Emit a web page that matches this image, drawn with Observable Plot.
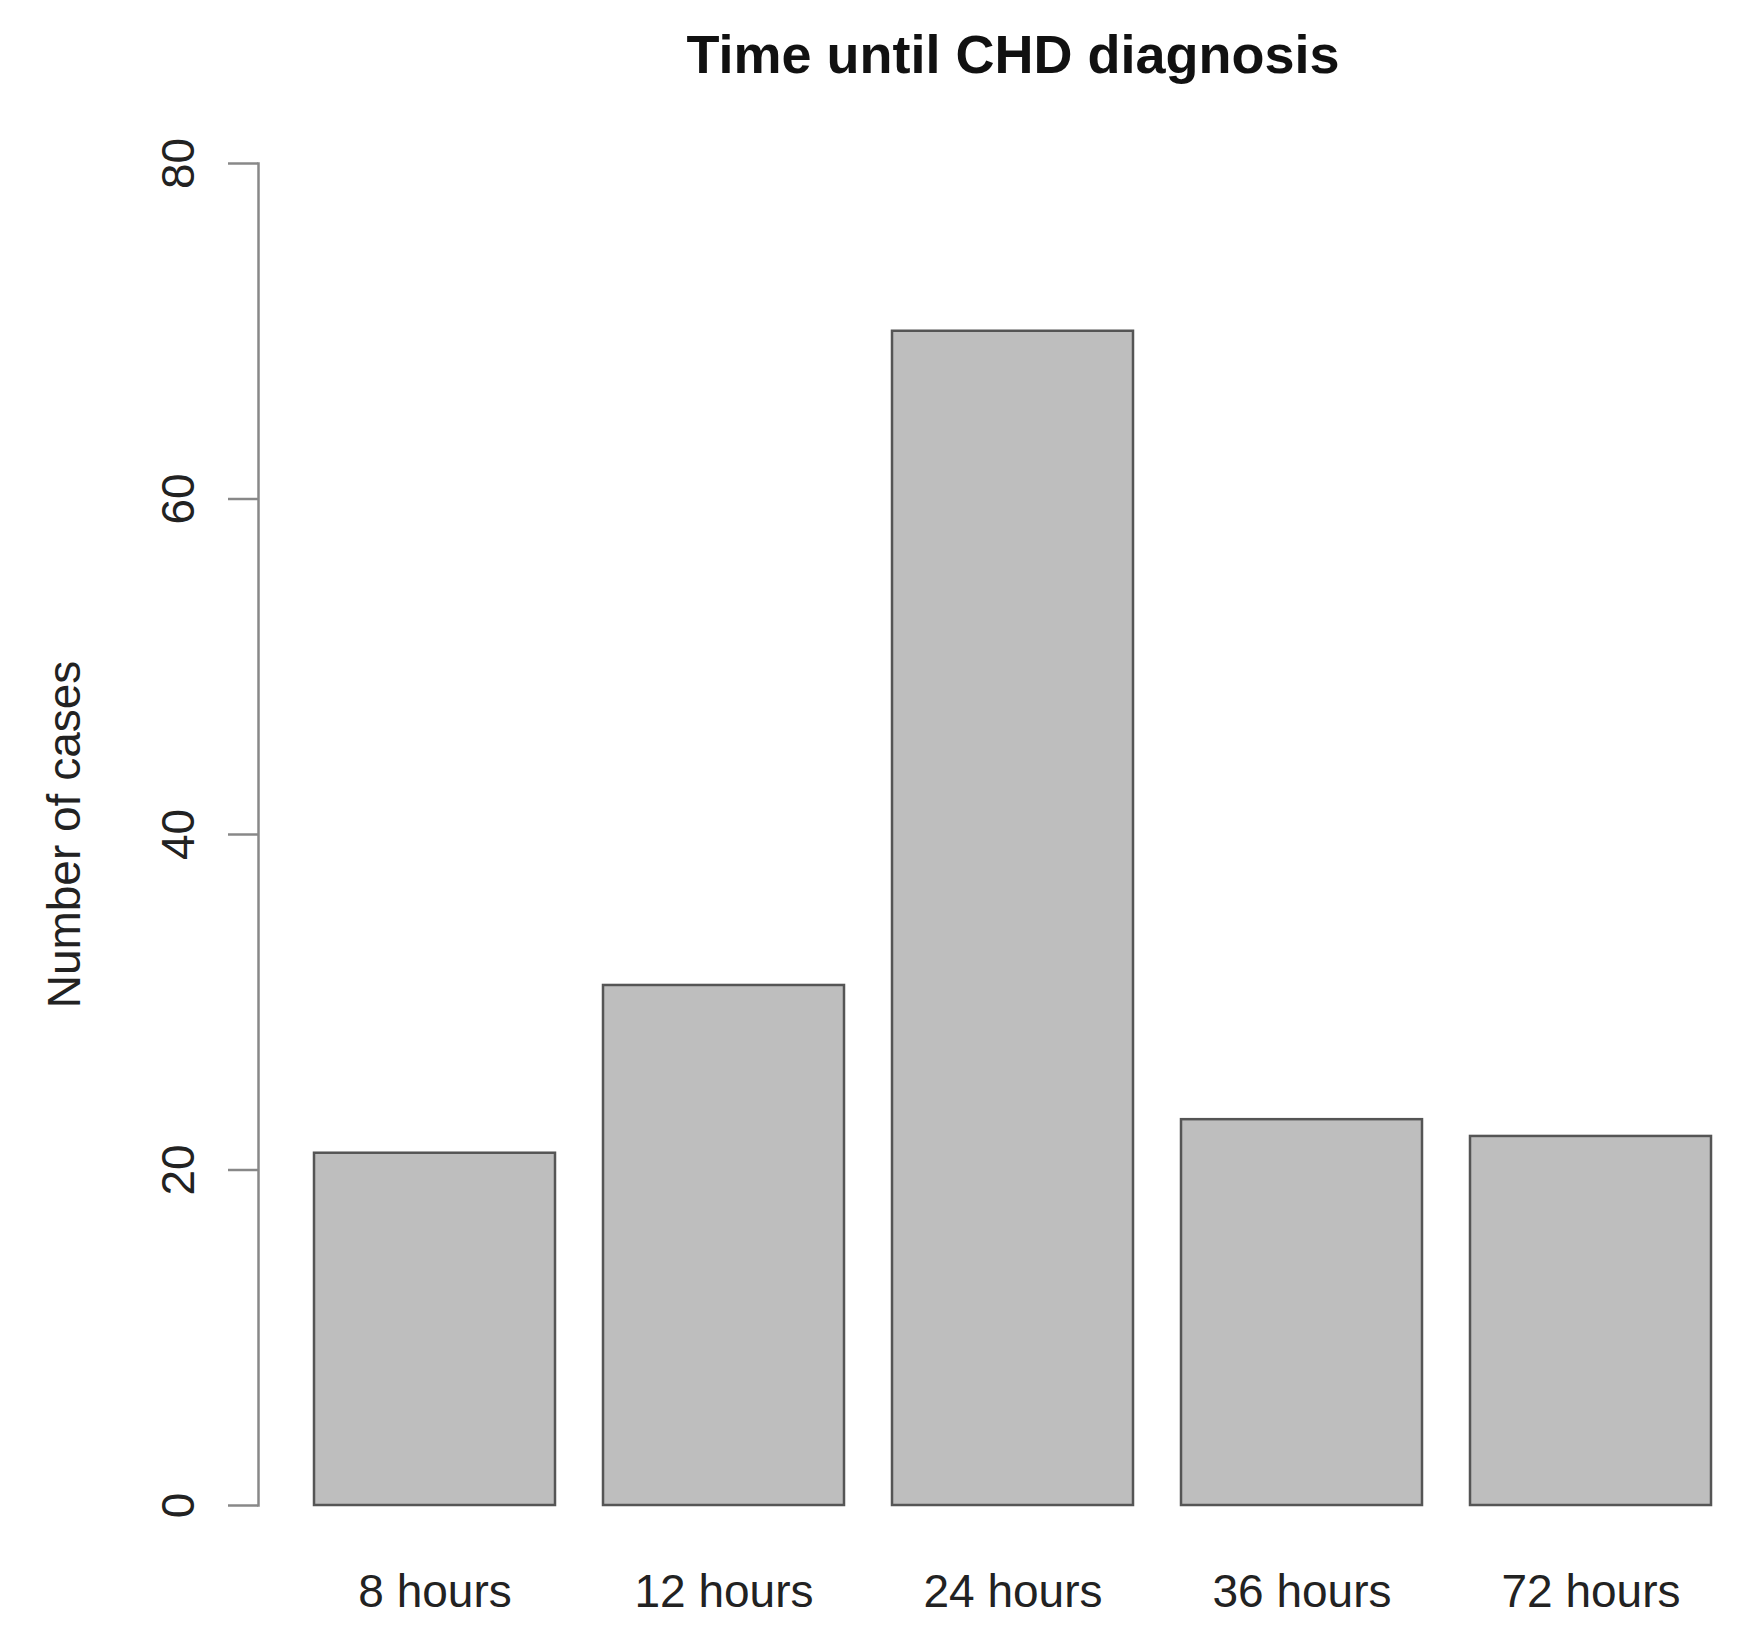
<!DOCTYPE html>
<html>
<head>
<meta charset="utf-8">
<script src="https://cdn.jsdelivr.net/npm/d3@7"></script>
<script src="https://cdn.jsdelivr.net/npm/@observablehq/plot@0.6"></script>
<style>
  html, body { margin: 0; padding: 0; background: #fff; }
  #wrap { position: relative; width: 1755px; height: 1646px; }
  #title {
    position: absolute; left: 1013px; top: 54px;
    transform: translate(-50%, -50%);
    font-family: "Liberation Sans", Arial, sans-serif;
    font-weight: bold; font-size: 54px; color: #111; white-space: nowrap;
  }
  svg { display: block; }
</style>
</head>
<body>
<div id="wrap">
  <div id="chart"></div>
  <div id="title"></div>
</div>
<script>
const categories = ["8 hours", "12 hours", "24 hours", "36 hours", "72 hours"];
const cases = [21, 31, 70, 23, 22];
const yTicks = [0, 20, 40, 60, 80];
const titleText = "Time until CHD diagnosis";
const yLabel = "Number of cases";

document.getElementById("title").textContent = titleText;

const data = categories.map((c, i) => ({category: c, value: cases[i]}));

const chart = Plot.plot({
  width: 1755,
  height: 1646,
  marginTop: 163,
  marginBottom: 141,
  marginLeft: 258,
  marginRight: 44,
  style: {fontFamily: "Liberation Sans, Arial, sans-serif", fontSize: "46px", color: "#222", background: "#fff"},
  x: {domain: categories, paddingInner: 0.1667, paddingOuter: 0.0969, align: 1, label: null},
  y: {domain: [0, 80], label: null},
  marks: [
    Plot.barY(data, {x: "category", y: "value", fill: "#bebebe", stroke: "#555", strokeWidth: 2.5}),
    Plot.frame({anchor: "left", stroke: "#888", strokeWidth: 2.5}),
    Plot.axisY(yTicks, {
      anchor: "left", tickSize: 30, tickPadding: 35, tickRotate: -90,
      stroke: "#888", strokeWidth: 2.5, fill: "#222", fontSize: 46, label: null
    }),
    Plot.text([yLabel], {
      frameAnchor: "left", rotate: -90, lineAnchor: "top", textAnchor: "middle",
      dx: -211, fontSize: 46, fill: "#222"
    }),
    Plot.axisX({anchor: "bottom", tickSize: 0, tickPadding: 69, fill: "#222", fontSize: 46, label: null})
  ]
});
document.getElementById("chart").appendChild(chart);
</script>
</body>
</html>
